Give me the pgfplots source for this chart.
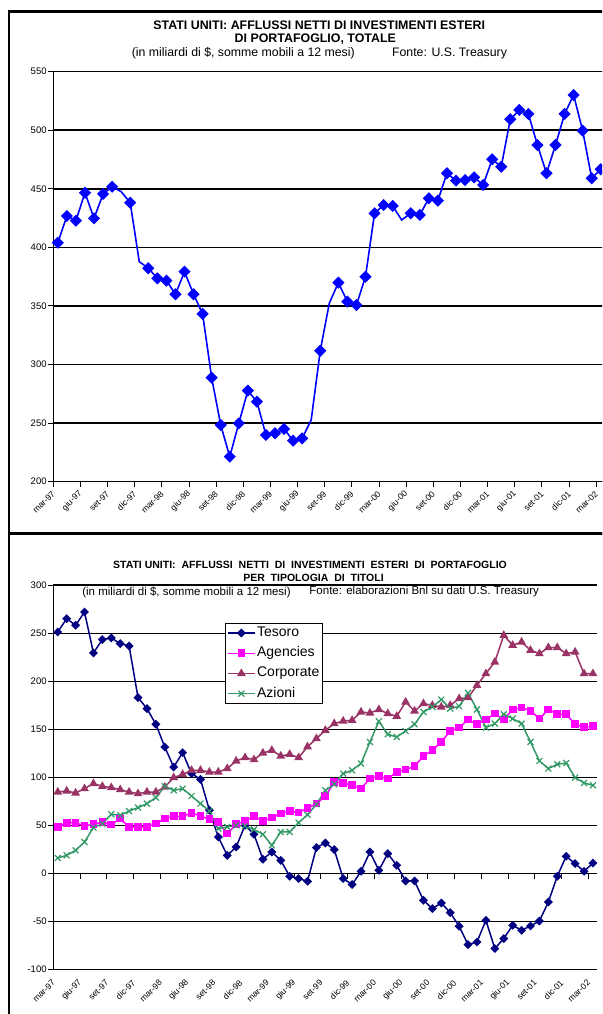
\documentclass[border=0pt]{standalone}
\usepackage{fontspec}
\setmainfont{Liberation Sans}
\usepackage{pgfplots}
\pgfplotsset{compat=1.18}
\usepackage{pgfplotstable}

\definecolor{topblue}{RGB}{0,0,255}
\definecolor{tnavy}{RGB}{0,0,128}
\definecolor{tmag}{RGB}{255,0,255}
\definecolor{tplum}{RGB}{153,51,102}
\definecolor{tgreen}{RGB}{51,153,102}

\pgfplotstableread{
x tot
0.5 404
1.5 426.8
2.5 422.8
3.5 446.7
4.5 424.8
5.5 445.6
6.5 451.8
7.5 447.6
8.5 438.2
9.5 387.8
10.5 382.2
11.5 373.6
12.5 371.6
13.5 360
14.5 379.3
15.5 360
16.5 343.2
17.5 288.8
18.5 248.4
19.5 221.4
20.5 249.8
21.5 277.7
22.5 268.3
23.5 239.9
24.5 241.3
25.5 245
26.5 235
27.5 237
28.5 252.7
29.5 311.8
30.5 352.3
31.5 369.9
32.5 353.7
33.5 350.8
34.5 375
35.5 429.1
36.5 436.2
37.5 435.4
38.5 423.4
39.5 429.1
40.5 427.7
41.5 441.9
42.5 439.9
43.5 463.3
44.5 457
45.5 457.5
46.5 459.8
47.5 453.3
48.5 475.2
49.5 468.9
50.5 509.4
51.5 517.3
52.5 513.9
53.5 487.4
54.5 463.3
55.5 487.4
56.5 513.9
57.5 530.1
58.5 499.6
59.5 459
60.5 466.7
}\toptable

\pgfplotstableread{
x tes age cor azi
0.5 251.4 48.5 84.9 16.2
1.5 265.3 53 86 19
2.5 258.4 53 83.9 24.2
3.5 272.2 49.5 88.4 32.9
4.5 229.6 51.3 93.7 47.9
5.5 243.5 53.7 90.8 52
6.5 245.2 51 89.5 61.7
7.5 239.3 57.2 87.4 60.7
8.5 236.9 48.5 84.9 65.1
9.5 183.1 48.5 83.2 68.7
10.5 171.7 48.5 84.9 72.8
11.5 155.4 52 84.9 79.1
12.5 131.7 57.2 90.1 90.8
13.5 110.9 59.6 99.9 86.7
14.5 125.9 59.6 103.3 88.4
15.5 104.1 63.1 107.5 80.7
16.5 98.1 60 107.5 72.8
17.5 66 56.5 105.7 65
18.5 38.1 53.7 105.7 46.8
19.5 19 41.6 109.3 48.5
20.5 27.7 51.3 117.2 50.3
21.5 50.3 54.7 120.7 49.5
22.5 40.9 59.6 118.6 45.8
23.5 14.9 54.7 125.5 40.9
24.5 22.5 58.3 128.3 29.4
25.5 13.8 62.4 122.4 43.3
26.5 -2.8 65.1 124.1 43.3
27.5 -5.2 63.5 120.7 53
28.5 -8 68 132 61.2
29.5 27.1 72.8 140.5 72.1
30.5 31.8 80.4 149.1 86.7
31.5 25 95.3 156.1 92.9
32.5 -5.2 94.3 158.8 104.1
33.5 -11.4 91.9 159.5 107.5
34.5 2.4 88.4 168.2 114.5
35.5 22.5 98.9 167.1 137
36.5 3.4 101.2 170.7 158.5
37.5 20.8 98.9 166.5 145
38.5 8.6 105.7 163.7 142.1
39.5 -7.7 108.2 178.6 148.4
40.5 -7.7 111.7 169.2 155.4
41.5 -27.8 122.4 176.9 168.2
42.5 -36.4 128.3 175.1 173.4
43.5 -30.6 137 173.4 181.1
44.5 -40.6 148.4 175.1 171.7
45.5 -54.8 151.9 182.1 174.1
46.5 -73.9 160.2 183.1 187.9
47.5 -71.2 155.4 195.9 170.7
48.5 -48.6 160.2 208.1 151.9
49.5 -78 166.5 220.2 156.1
50.5 -67.6 160.2 248 165.8
51.5 -53.8 170.7 237.6 161.3
52.5 -59 172.7 241 156.1
53.5 -54.5 169.2 232.4 137
54.5 -49.3 161.3 228.9 117.2
55.5 -29.6 170.7 235.2 109.3
56.5 -2.8 165.8 235.2 113.7
57.5 18 165.8 228.9 115.1
58.5 10.4 155.4 230.6 99.9
59.5 2.4 152.6 208.1 94.3
60.5 11 153.3 208.1 91.9
}\bottable

\pgfplotsset{
  chartbase/.style={
    scale only axis,
    anchor=south west,
    xmin=0, xmax=61,
    axis y line*=left,
    xtick={0,3,...,60},
    xticklabels={mar-97,giu-97,set-97,dic-97,mar-98,giu-98,set-98,dic-98,mar-99,giu-99,set-99,dic-99,mar-00,giu-00,set-00,dic-00,mar-01,giu-01,set-01,dic-01,mar-02},
    tick align=outside,
    major tick length=5pt,
    tick style={black, line width=1pt},
    axis line style={black, line width=1.5pt},
    ymajorgrids,
    grid style={black, line width=1.6pt},
    /pgf/number format/assume math mode=true,
    yticklabel style={font=\fontsize{9.5}{11}\selectfont, inner sep=1.5pt},
    hide obscured x ticks=false,
  },
}

\begin{document}
\begin{tikzpicture}
\useasboundingbox (0pt,0pt) rectangle (602pt,1014pt);
\clip (0pt,0pt) rectangle (602pt,1014pt);

% ---------- top chart ----------
\begin{axis}[chartbase,
  at={(53.3pt,532.3pt)}, width=552pt, height=410pt,
  ymin=200, ymax=550, ytick={200,250,...,550},
  axis x line*=bottom,
  xticklabel style={font=\fontsize{8.6}{10}\selectfont, xshift=1pt, yshift=-5pt, rotate=45, anchor=east, inner sep=1pt},
]
\addplot[topblue, line width=1.6pt, mark=square*, mark size=3.5pt,
  mark options={rotate=45, solid, fill=topblue},
  mark indices={1,2,3,4,5,6,7,9,11,12,13,14,15,16,17,18,19,20,21,22,23,24,25,26,27,28,30,32,33,34,35,36,37,38,40,41,42,43,44,45,46,47,48,49,50,51,52,53,54,55,56,57,58,59,60,61}]
  table[x=x, y=tot] {\toptable};
\end{axis}

% ---------- bottom chart ----------
\begin{axis}[chartbase,
  at={(53.3pt,44.3pt)}, width=544.1pt, height=384.4pt,
  ymin=-100, ymax=300, ytick={-100,-50,...,300},
  axis x line*=middle,
  xticklabel style={font=\fontsize{8.6}{10}\selectfont, xshift=1pt, yshift=-102pt, rotate=45, anchor=east, inner sep=1pt},
  legend style={at={(0.3156,0.902)}, anchor=north west, draw=black, line width=1.2pt,
    font=\fontsize{14}{15}\selectfont, inner sep=1.5pt, row sep=4.2pt,
    nodes={inner sep=1.5pt, text height=10pt, text depth=3pt}},
  legend cell align=left,
  legend image code/.code={\draw[mark repeat=2, mark phase=2, #1] plot coordinates {(0pt,0pt) (13.5pt,0pt) (27pt,0pt)};},
]
\addplot[tnavy, line width=1.5pt, mark=square*, mark size=2.4pt, mark options={rotate=45, solid, fill=tnavy}]
  table[x=x, y=tes] {\bottable};
\addlegendentry{Tesoro}
\addplot[tmag, line width=1.5pt, mark=square*, mark size=3.1pt, mark options={solid, fill=tmag}]
  table[x=x, y=age] {\bottable};
\addlegendentry{Agencies}
\addplot[tplum, line width=1.5pt, mark=triangle*, mark size=3.6pt, mark options={solid, fill=tplum}]
  table[x=x, y=cor] {\bottable};
\addlegendentry{Corporate}
\addplot[tgreen, line width=1.5pt, mark=x, mark size=4.2pt, mark options={solid, line width=1.2pt}]
  table[x=x, y=azi] {\bottable};
\addlegendentry{Azioni}
\end{axis}

% ---------- frames ----------
\draw[line width=2.6pt] (9pt,480.5pt) rectangle (660pt,1002.3pt);
\draw[line width=2.6pt] (9pt,-30pt) rectangle (660pt,480.5pt);

% ---------- titles ----------
\node[font=\fontsize{12.4}{14}\selectfont\bfseries, inner sep=0pt] at (319.2pt,989pt) {STATI UNITI: AFFLUSSI NETTI DI INVESTIMENTI ESTERI};
\node[font=\fontsize{12.4}{14}\selectfont\bfseries, inner sep=0pt] at (315.3pt,975pt) {DI PORTAFOGLIO, TOTALE};
\node[font=\fontsize{12.3}{14}\selectfont, inner sep=0pt] at (243.3pt,961pt) {(in miliardi di \$, somme mobili a 12 mesi)};
\node[font=\fontsize{12.3}{14}\selectfont, inner sep=0pt] at (449.5pt,961pt) {Fonte: U.S. Treasury};

\node[font=\fontsize{10.5}{12}\selectfont\bfseries, inner sep=0pt] at (310pt,449pt) {STATI UNITI:~~AFFLUSSI~~NETTI~~DI~~INVESTIMENTI~~ESTERI~~DI~~PORTAFOGLIO};
\node[font=\fontsize{10.5}{12}\selectfont\bfseries, inner sep=0pt] at (313.5pt,436pt) {PER~~TIPOLOGIA~~DI~~TITOLI};
\node[font=\fontsize{11.5}{13}\selectfont, inner sep=0pt] at (186.5pt,422pt) {(in miliardi di \$, somme mobili a 12 mesi)};
\node[font=\fontsize{11.5}{13}\selectfont, inner sep=0pt] at (424.2pt,422pt) {Fonte: elaborazioni Bnl su dati U.S. Treasury};
\end{tikzpicture}
\end{document}
